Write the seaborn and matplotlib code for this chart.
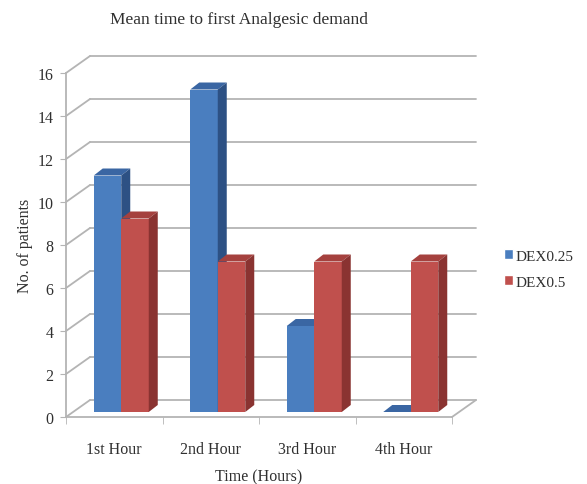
import matplotlib
matplotlib.use("Agg")
import matplotlib.pyplot as plt
from matplotlib.patches import Polygon
import seaborn as sns
import pandas as pd

# data
hours = ["1st Hour", "2nd Hour", "3rd Hour", "4th Hour"]
dex025 = [11, 15, 4, 0]
dex05 = [9, 7, 7, 7]
groups = ["DEX0.25", "DEX0.5"]
yticks = [0, 2, 4, 6, 8, 10, 12, 14, 16]

df = pd.DataFrame({
    "Time": hours * 2,
    "Patients": dex025 + dex05,
    "Group": [groups[0]] * len(hours) + [groups[1]] * len(hours),
})

sns.set_style("white")
plt.rcParams["font.family"] = ["Liberation Serif", "DejaVu Serif"]
txt = "#303030"
gridc = "#b4b4b4"

# face colours: front, top, side
faces = {
    groups[0]: ("#4a7ebf", "#3a66a3", "#2d5184"),
    groups[1]: ("#c0504d", "#a5413e", "#8a3331"),
}

W, H = 587, 485
fig = plt.figure(figsize=(W / 100, H / 100), dpi=100)
# front plane of the pseudo-3D box
ax = fig.add_axes([66 / W, (H - 418) / H, 386 / W, 344 / H])

sns.barplot(data=df, x="Time", y="Patients", hue="Group",
            palette=[faces[g][0] for g in groups], width=0.57,
            saturation=1, ax=ax, zorder=2)

ax.set_xlim(-0.5, 3.5)
ax.set_ylim(0, 16)

# depth offsets in data units
wdx, wdy = 24 / 96.5, 17 / 21.5   # wall depth
bdx, bdy = 7 / 96.5, 5 / 21.5     # bar position within depth
ddx, ddy = 9 / 96.5, 7 / 21.5     # bar depth

# back wall grid and side wall diagonals
for v in yticks:
    ax.plot([-0.5 + wdx, 3.5 + wdx], [v + wdy, v + wdy], color=gridc,
            lw=1.3, clip_on=False, zorder=0.5)
    ax.plot([-0.5, -0.5 + wdx], [v, v + wdy], color=gridc,
            lw=1.3, clip_on=False, zorder=0.5)
ax.plot([3.5, 3.5 + wdx], [0, wdy], color=gridc, lw=1.3,
        clip_on=False, zorder=0.5)

# 3D faces for each bar
for k, cont in enumerate(ax.containers):
    g = groups[k]
    z = 2 + k
    for p in cont.patches:
        x0 = p.get_x() + bdx
        w = p.get_width()
        h = p.get_height()
        y0 = bdy
        p.set_x(x0)
        p.set_y(y0)
        p.set_zorder(z)
        p.set_clip_on(False)
        p.set_edgecolor("none")
        top = [(x0, y0 + h), (x0 + w, y0 + h), (x0 + w + ddx, y0 + h + ddy),
               (x0 + ddx, y0 + h + ddy)]
        side = [(x0 + w, y0), (x0 + w + ddx, y0 + ddy),
                (x0 + w + ddx, y0 + h + ddy), (x0 + w, y0 + h)]
        ax.add_patch(Polygon(top, closed=True, fc=faces[g][1], ec="none",
                             zorder=z, clip_on=False))
        ax.add_patch(Polygon(side, closed=True, fc=faces[g][2], ec="none",
                             zorder=z, clip_on=False))

for s in ["top", "right"]:
    ax.spines[s].set_visible(False)
for s in ["left", "bottom"]:
    ax.spines[s].set_color(gridc)
    ax.spines[s].set_linewidth(1.3)

ax.set_yticks(yticks)
ax.set_xticks(range(len(hours)))
ax.set_xticks([-0.5, 0.5, 1.5, 2.5, 3.5], minor=True)
ax.tick_params(axis="y", which="major", left=True, length=4, color=gridc,
               labelsize=11.5, labelcolor=txt, pad=5)
ax.tick_params(axis="x", which="major", bottom=False, labelsize=11.5,
               labelcolor=txt, pad=14)
ax.tick_params(axis="x", which="minor", bottom=True, length=5, color=gridc)

ax.set_xlabel("Time (Hours)", fontsize=11.5, color=txt, labelpad=8)
ax.set_ylabel("No. of patients", fontsize=11.5, color=txt, labelpad=3)

fig.text(239 / W, 1 - 20 / H, "Mean time to first Analgesic demand",
         ha="center", va="center", fontsize=12.5, color=txt)

sns.move_legend(ax, "center left", bbox_to_anchor=(490 / W, 1 - 270 / H),
                bbox_transform=fig.transFigure, frameon=False, title=None,
                fontsize=11, handlelength=0.6, handleheight=0.6,
                handletextpad=0.15, labelspacing=0.85)
for t in ax.get_legend().get_texts():
    t.set_color(txt)

fig.savefig("out.png", dpi=100)
